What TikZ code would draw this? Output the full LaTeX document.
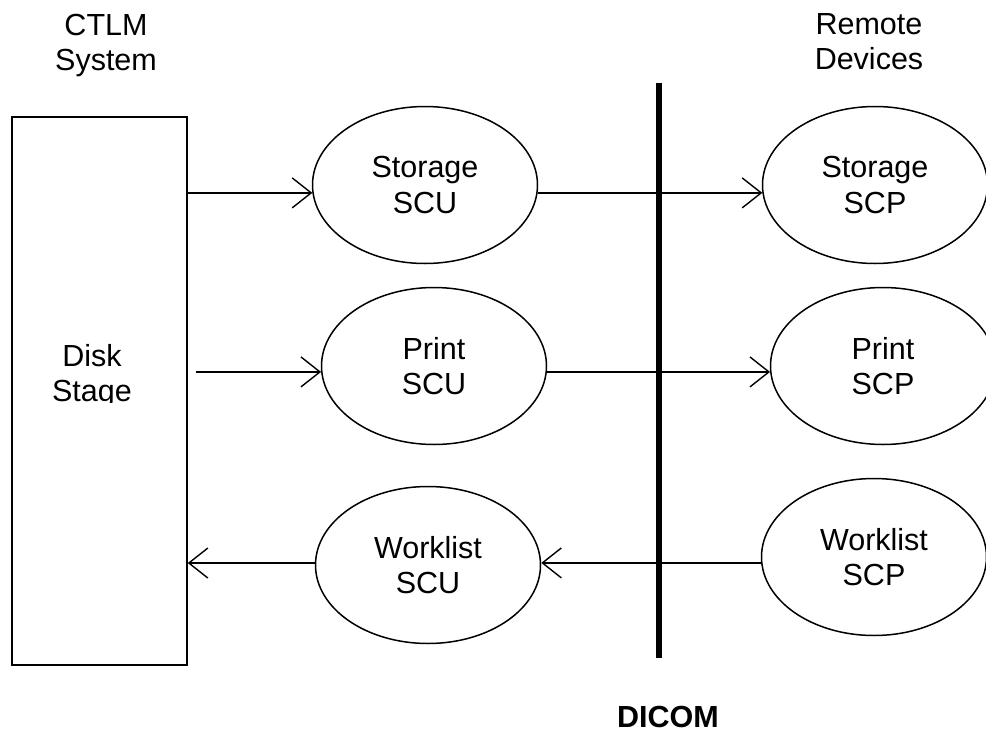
\documentclass[tikz,border=0pt]{standalone}
\usepackage{fontspec}
\setmainfont{Liberation Sans}
\usetikzlibrary{shapes.geometric,arrows.meta}
\begin{document}
\begin{tikzpicture}[x=1pt,y=-1pt,
  lbl/.style={font=\fontsize{30.5}{35.5}\selectfont, align=center, inner sep=0pt},
  oval/.style={ellipse, draw, line width=1.5pt, minimum width=225pt, minimum height=157pt,
    inner sep=0pt, font=\fontsize{30.5}{35.5}\selectfont, align=center},
  flow/.style={line width=1.4pt, -{Straight Barb[length=19pt,width=30pt]}}
]
\path[use as bounding box, fill=white] (0,0) rectangle (986,734);

% disk stage box
\node[draw, line width=1.4pt, minimum width=175pt, minimum height=548pt, inner sep=0pt] (disk) at (99.5,391) {};
\begin{scope}
  \clip (14,330) rectangle (185,402);
  \node[lbl] (disklbl) at (92,376) {Disk\\Stage};
\end{scope}

% headers
\node[lbl, anchor=north] (ctlm) at (106,14) {CTLM\\System};
\node[lbl, anchor=north] (remote) at (869,13) {Remote\\Devices};

% ellipses
\node[oval] (ssu) at (425,185) {Storage\\SCU};
\node[oval] (ssp) at (875,185) {Storage\\SCP};
\node[oval] (psu) at (434,366) {Print\\SCU};
\node[oval] (psp) at (883,366) {Print\\SCP};
\node[oval] (wsu) at (428,565) {Worklist\\SCU};
\node[oval] (wsp) at (874,557) {Worklist\\SCP};

% DICOM boundary
\coordinate (dtop) at (659,83);
\coordinate (dbot) at (659,658);
\draw[line width=6pt] (dtop) -- (dbot);
\node[font=\fontsize{30.5}{35.5}\selectfont\bfseries, anchor=base, inner sep=0pt] (dicom) at (668,727) {DICOM};

% arrows
\draw[flow] (ssu.184 -| disk.east) -- (ssu.184);
\draw[flow] (ssu.-4) -- (ssp.184);
\coordinate (pstart) at (196,372);
\draw[flow] (psu.183 -| pstart) -- (psu.183);
\draw[flow] (psu.-3) -- (psp.183);
\draw[flow] (wsp.183.5) -- (wsp.183.5 -| wsu.east);
\draw[flow] (wsu.179.5) -- (wsu.179.5 -| disk.east);
\end{tikzpicture}
\end{document}
